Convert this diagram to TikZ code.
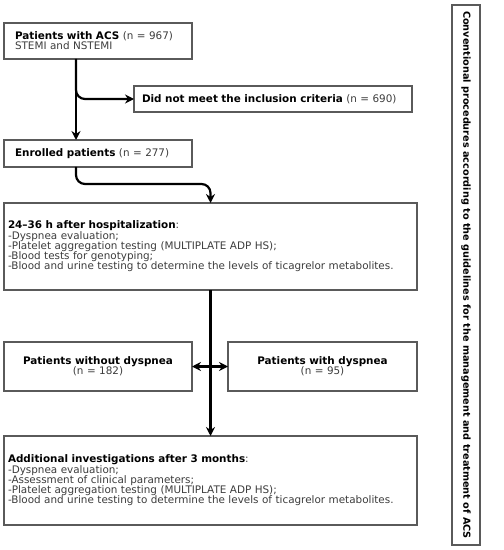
\documentclass[tikz,border=0pt]{standalone}
\usepackage{fontspec}
\setmainfont{DejaVu Sans}
\usepackage{tikz}
\usetikzlibrary{positioning, arrows.meta}

\definecolor{txtgray}{RGB}{60,60,60}
\definecolor{boxgray}{RGB}{90,90,90}
\newcommand{\nn}[1]{{\color{txtgray}#1}}

\begin{document}
\begin{tikzpicture}[x=1bp, y=-1bp,
    font=\fontsize{10.4bp}{10.2bp}\selectfont,
    >={Stealth[length=9bp, width=9bp]},
    stepbox/.style={draw=boxgray, line width=1.1bp, anchor=north west, inner sep=0pt, outer sep=0pt},
    arr/.style={->, line width=2.2bp}]
  \useasboundingbox (0,0) rectangle (504,550);

  \node[stepbox, minimum width=188bp, minimum height=36bp, text width=166bp, align=left] (acs) at (4,23)
    {\textbf{Patients with ACS} \nn{(n = 967)}\\\nn{STEMI and NSTEMI}};
  \node[stepbox, minimum width=278bp, minimum height=26bp, text width=262bp, align=left] (excl) at (134,86)
    {\textbf{Did not meet the inclusion criteria} \nn{(n = 690)}};
  \node[stepbox, minimum width=188bp, minimum height=27bp, text width=166bp, align=left] (enr) at (4,140)
    {\textbf{Enrolled patients} \nn{(n = 277)}};
  \node[stepbox, minimum width=413bp, minimum height=87bp, text width=405bp, align=left] (h24) at (4,203)
    {\textbf{24--36 h after hospitalization}\nn{:}\\
     \nn{-Dyspnea evaluation;}\\
     \nn{-Platelet aggregation testing (MULTIPLATE ADP HS);}\\
     \nn{-Blood tests for genotyping;}\\
     \nn{-Blood and urine testing to determine the levels of ticagrelor metabolites.}};
  \node[stepbox, minimum width=188bp, minimum height=49bp, text width=188bp, align=center] (nodysp) at (4,342)
    {\textbf{Patients without dyspnea}\\\nn{(n = 182)}};
  \node[stepbox, minimum width=189bp, minimum height=49bp, text width=189bp, align=center] (dysp) at (228,342)
    {\textbf{Patients with dyspnea}\\\nn{(n = 95)}};
  \node[stepbox, minimum width=413bp, minimum height=89bp, text width=405bp, align=left] (month) at (4,436)
    {\textbf{Additional investigations after 3 months}\nn{:}\\
     \nn{-Dyspnea evaluation;}\\
     \nn{-Assessment of clinical parameters;}\\
     \nn{-Platelet aggregation testing (MULTIPLATE ADP HS);}\\
     \nn{-Blood and urine testing to determine the levels of ticagrelor metabolites.}};
  \node[draw=boxgray, line width=1.1bp, minimum width=540bp, minimum height=28bp, rotate=-90,
        font=\bfseries\fontsize{9.7bp}{10bp}\selectfont] (conv) at (466,275)
    {Conventional procedures according to the guidelines for the management and treatment of ACS};

  \draw[arr] ([xshift=-22bp]acs.south) -- ([xshift=-22bp]enr.north);
  \draw[arr, rounded corners=9bp] ([xshift=-22bp]acs.south) |- (excl.west);
  \draw[arr, rounded corners=9bp] ([xshift=-22bp]enr.south) -- ++(0,17) -| (h24.north);
  \draw[arr] (h24.south) -- (month.north);
  \draw[arr, <->] (nodysp.east) -- (dysp.west);
\end{tikzpicture}
\end{document}
